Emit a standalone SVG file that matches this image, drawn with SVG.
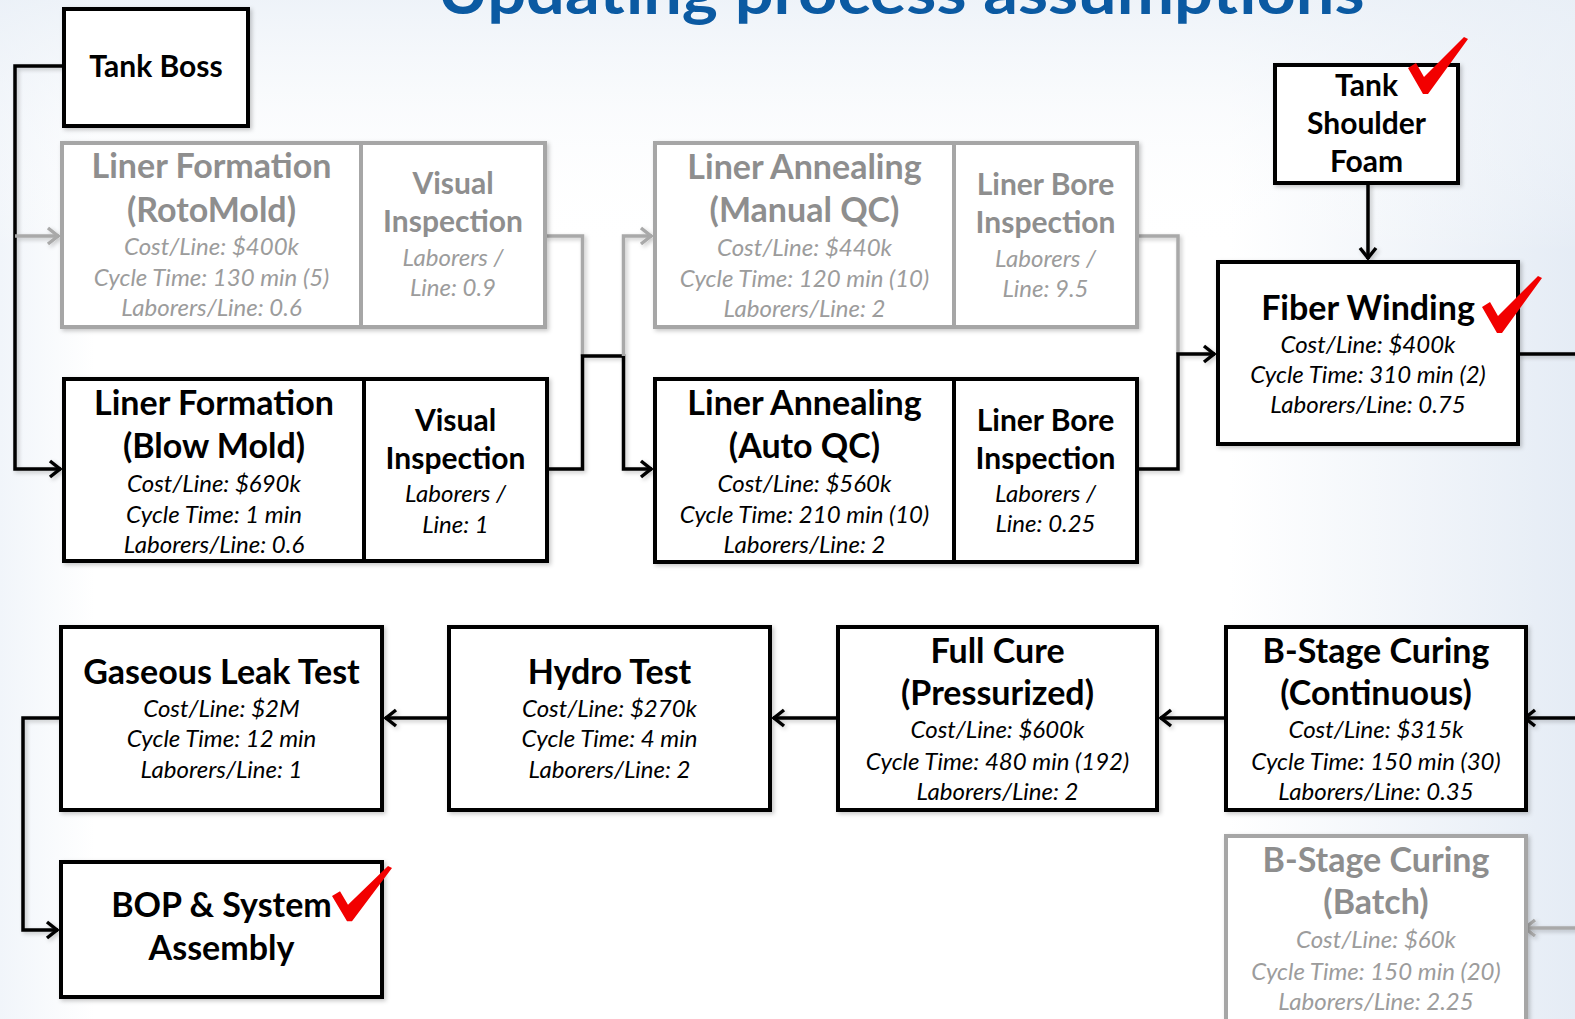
<svg xmlns="http://www.w3.org/2000/svg" width="1575" height="1019" viewBox="0 0 1575 1019">
<defs>
<style>
.box{fill:#fff;stroke:#000;stroke-width:4}
.gbox{fill:#fff;stroke:#a6a6a6;stroke-width:4}
.dv{stroke:#000;stroke-width:4}
.gdv{stroke:#a6a6a6;stroke-width:4}
.t{font-family:Lato,"Open Sans","Liberation Sans",sans-serif;font-weight:bold;text-anchor:middle;fill:#000}
.i{font-family:Lato,"Open Sans","Liberation Sans",sans-serif;font-style:italic;text-anchor:middle;fill:#000;font-size:24px}
.b33{font-size:34px}
.b29{font-size:30px}
.b28{font-size:30px}
.g{fill:#8e8e8e}
.gi{fill:#9c9c9c}
.c{fill:none;stroke:#000;stroke-width:3.5;stroke-linejoin:miter}
.gc{fill:none;stroke:#a9a9a9;stroke-width:3.5;stroke-linejoin:miter}
.chk{fill:#f20000}
.title{font-family:Lato,"Open Sans","Liberation Sans",sans-serif;font-weight:bold;font-size:62px;fill:#0b5aa2;text-anchor:middle}
</style>
<linearGradient id="bg" x1="0" y1="0" x2="1" y2="0">
<stop offset="0" stop-color="#f1f5fa"/>
<stop offset="0.06" stop-color="#ffffff"/>
<stop offset="0.78" stop-color="#ffffff"/>
<stop offset="1" stop-color="#e5ecf5"/>
</linearGradient>
<linearGradient id="bgv" x1="0" y1="0" x2="0" y2="1">
<stop offset="0" stop-color="#eaf0f7" stop-opacity="0.8"/>
<stop offset="0.25" stop-color="#ffffff" stop-opacity="0"/>
</linearGradient>
<marker id="ab" viewBox="-14 -10 16 20" refX="0" refY="0" markerWidth="16" markerHeight="20" markerUnits="userSpaceOnUse" orient="auto">
<path d="M-11,-8 L-1,0 L-11,8" fill="none" stroke="#000" stroke-width="3.5"/>
</marker>
<marker id="ag" viewBox="-14 -10 16 20" refX="0" refY="0" markerWidth="16" markerHeight="20" markerUnits="userSpaceOnUse" orient="auto">
<path d="M-11,-8 L-1,0 L-11,8" fill="none" stroke="#a9a9a9" stroke-width="3.5"/>
</marker>
<path id="check" d="M0,31 L8,26 L16,40 L56,0 L60,2 L20,57 L15,57 Z"/>
<filter id="sh" x="-5%" y="-5%" width="115%" height="115%">
<feDropShadow dx="2" dy="2" stdDeviation="2" flood-color="#000" flood-opacity="0.22"/>
</filter>
</defs>

<rect width="1575" height="1019" fill="url(#bg)"/>
<rect width="1575" height="1019" fill="url(#bgv)"/>

<text class="title" x="901" y="14" textLength="927" lengthAdjust="spacingAndGlyphs">Updating process assumptions</text>

<g id="connectors" filter="url(#sh)">
<path class="c" d="M64,66 H15 V469 H61" marker-end="url(#ab)"/>
<path class="gc" d="M15,236 H59" marker-end="url(#ag)"/>
<path class="gc" d="M545,236 H582.5 V356"/>
<path class="c" d="M547,469 H582.5 V356 H623.5 V469 H652" marker-end="url(#ab)"/>
<path class="gc" d="M623.5,356 V236 H652" marker-end="url(#ag)"/>
<path class="gc" d="M1137,236 H1178 V354"/>
<path class="c" d="M1137,469 H1178 V354 H1215" marker-end="url(#ab)"/>
<path class="c" d="M1368,183 V259" marker-end="url(#ab)"/>
<path class="c" d="M1518,354 H1580"/>
<path class="c" d="M1580,718 H1524" marker-end="url(#ab)"/>
<path class="gc" d="M1580,928 H1524" marker-end="url(#ag)"/>
<path class="c" d="M1226,718 H1160" marker-end="url(#ab)"/>
<path class="c" d="M838,718 H773" marker-end="url(#ab)"/>
<path class="c" d="M449,718 H385" marker-end="url(#ab)"/>
<path class="c" d="M61,718 H23 V930 H58" marker-end="url(#ab)"/>
</g>

<g id="tank-boss">
<rect class="box" x="64" y="9" width="184" height="117" filter="url(#sh)"/>
<text class="t b28" x="156" y="77">Tank Boss</text>
</g>

<g id="liner-formation-rotomold">
<rect class="gbox" x="62" y="143" width="483" height="184" filter="url(#sh)"/>
<line class="gdv" x1="361" y1="143" x2="361" y2="327"/>
<text class="t b33 g" x="211.5" y="178">Liner Formation</text>
<text class="t b33 g" x="211.5" y="222">(RotoMold)</text>
<text class="i gi" x="211.5" y="255">Cost/Line: $400k</text>
<text class="i gi" x="211.5" y="286">Cycle Time: 130 min (5)</text>
<text class="i gi" x="211.5" y="316">Laborers/Line: 0.6</text>
<text class="t b29 g" x="453" y="194">Visual</text>
<text class="t b29 g" x="453" y="232">Inspection</text>
<text class="i gi" x="453" y="266">Laborers /</text>
<text class="i gi" x="453" y="296">Line: 0.9</text>
</g>

<g id="liner-formation-blowmold">
<rect class="box" x="64" y="379" width="483" height="182" filter="url(#sh)"/>
<line class="dv" x1="364" y1="379" x2="364" y2="561"/>
<text class="t b33" x="214" y="415">Liner Formation</text>
<text class="t b33" x="214" y="458">(Blow Mold)</text>
<text class="i" x="214" y="492">Cost/Line: $690k</text>
<text class="i" x="214" y="523">Cycle Time: 1 min</text>
<text class="i" x="214" y="553">Laborers/Line: 0.6</text>
<text class="t b29" x="455.5" y="431">Visual</text>
<text class="t b29" x="455.5" y="469">Inspection</text>
<text class="i" x="455.5" y="502">Laborers /</text>
<text class="i" x="455.5" y="533">Line: 1</text>
</g>

<g id="liner-annealing-manual">
<rect class="gbox" x="655" y="143" width="482" height="184" filter="url(#sh)"/>
<line class="gdv" x1="954" y1="143" x2="954" y2="327"/>
<text class="t b33 g" x="804.5" y="179">Liner Annealing</text>
<text class="t b33 g" x="804.5" y="222">(Manual QC)</text>
<text class="i gi" x="804.5" y="256">Cost/Line: $440k</text>
<text class="i gi" x="804.5" y="287">Cycle Time: 120 min (10)</text>
<text class="i gi" x="804.5" y="317">Laborers/Line: 2</text>
<text class="t b29 g" x="1045.5" y="195">Liner Bore</text>
<text class="t b29 g" x="1045.5" y="233">Inspection</text>
<text class="i gi" x="1045.5" y="267">Laborers /</text>
<text class="i gi" x="1045.5" y="297">Line: 9.5</text>
</g>

<g id="liner-annealing-auto">
<rect class="box" x="655" y="379" width="482" height="183" filter="url(#sh)"/>
<line class="dv" x1="954" y1="379" x2="954" y2="562"/>
<text class="t b33" x="804.5" y="415">Liner Annealing</text>
<text class="t b33" x="804.5" y="458">(Auto QC)</text>
<text class="i" x="804.5" y="492">Cost/Line: $560k</text>
<text class="i" x="804.5" y="523">Cycle Time: 210 min (10)</text>
<text class="i" x="804.5" y="553">Laborers/Line: 2</text>
<text class="t b29" x="1045.5" y="431">Liner Bore</text>
<text class="t b29" x="1045.5" y="469">Inspection</text>
<text class="i" x="1045.5" y="502">Laborers /</text>
<text class="i" x="1045.5" y="532">Line: 0.25</text>
</g>

<g id="tank-shoulder-foam">
<rect class="box" x="1275" y="65" width="183" height="118" filter="url(#sh)"/>
<text class="t b28" x="1366.5" y="96">Tank</text>
<text class="t b28" x="1366.5" y="134">Shoulder</text>
<text class="t b28" x="1366.5" y="172">Foam</text>
<use href="#check" class="chk" transform="translate(1408,37)"/>
</g>

<g id="fiber-winding">
<rect class="box" x="1218" y="262" width="300" height="182" filter="url(#sh)"/>
<text class="t b33" x="1368" y="320">Fiber Winding</text>
<text class="i" x="1368" y="353">Cost/Line: $400k</text>
<text class="i" x="1368" y="383">Cycle Time: 310 min (2)</text>
<text class="i" x="1368" y="413">Laborers/Line: 0.75</text>
<use href="#check" class="chk" transform="translate(1482,276)"/>
</g>

<g id="b-stage-continuous">
<rect class="box" x="1226" y="627" width="300" height="183" filter="url(#sh)"/>
<text class="t b33" x="1376" y="663">B-Stage Curing</text>
<text class="t b33" x="1376" y="705">(Continuous)</text>
<text class="i" x="1376" y="738">Cost/Line: $315k</text>
<text class="i" x="1376" y="770">Cycle Time: 150 min (30)</text>
<text class="i" x="1376" y="800">Laborers/Line: 0.35</text>
</g>

<g id="b-stage-batch">
<rect class="gbox" x="1226" y="836" width="300" height="200" filter="url(#sh)"/>
<text class="t b33 g" x="1376" y="872">B-Stage Curing</text>
<text class="t b33 g" x="1376" y="914">(Batch)</text>
<text class="i gi" x="1376" y="948">Cost/Line: $60k</text>
<text class="i gi" x="1376" y="980">Cycle Time: 150 min (20)</text>
<text class="i gi" x="1376" y="1010">Laborers/Line: 2.25</text>
</g>

<g id="full-cure">
<rect class="box" x="838" y="627" width="319" height="183" filter="url(#sh)"/>
<text class="t b33" x="997.5" y="663">Full Cure</text>
<text class="t b33" x="997.5" y="705">(Pressurized)</text>
<text class="i" x="997.5" y="738">Cost/Line: $600k</text>
<text class="i" x="997.5" y="770">Cycle Time: 480 min (192)</text>
<text class="i" x="997.5" y="800">Laborers/Line: 2</text>
</g>

<g id="hydro-test">
<rect class="box" x="449" y="627" width="321" height="183" filter="url(#sh)"/>
<text class="t b33" x="609.5" y="684">Hydro Test</text>
<text class="i" x="609.5" y="717">Cost/Line: $270k</text>
<text class="i" x="609.5" y="747">Cycle Time: 4 min</text>
<text class="i" x="609.5" y="778">Laborers/Line: 2</text>
</g>

<g id="gaseous-leak-test">
<rect class="box" x="61" y="627" width="321" height="183" filter="url(#sh)"/>
<text class="t b33" x="221.5" y="684">Gaseous Leak Test</text>
<text class="i" x="221.5" y="717">Cost/Line: $2M</text>
<text class="i" x="221.5" y="747">Cycle Time: 12 min</text>
<text class="i" x="221.5" y="778">Laborers/Line: 1</text>
</g>

<g id="bop-system-assembly">
<rect class="box" x="61" y="862" width="321" height="135" filter="url(#sh)"/>
<text class="t b33" x="221.5" y="917">BOP &amp; System</text>
<text class="t b33" x="221.5" y="960">Assembly</text>
<use href="#check" class="chk" transform="translate(332,866) scale(1,0.97)"/>
</g>
</svg>
